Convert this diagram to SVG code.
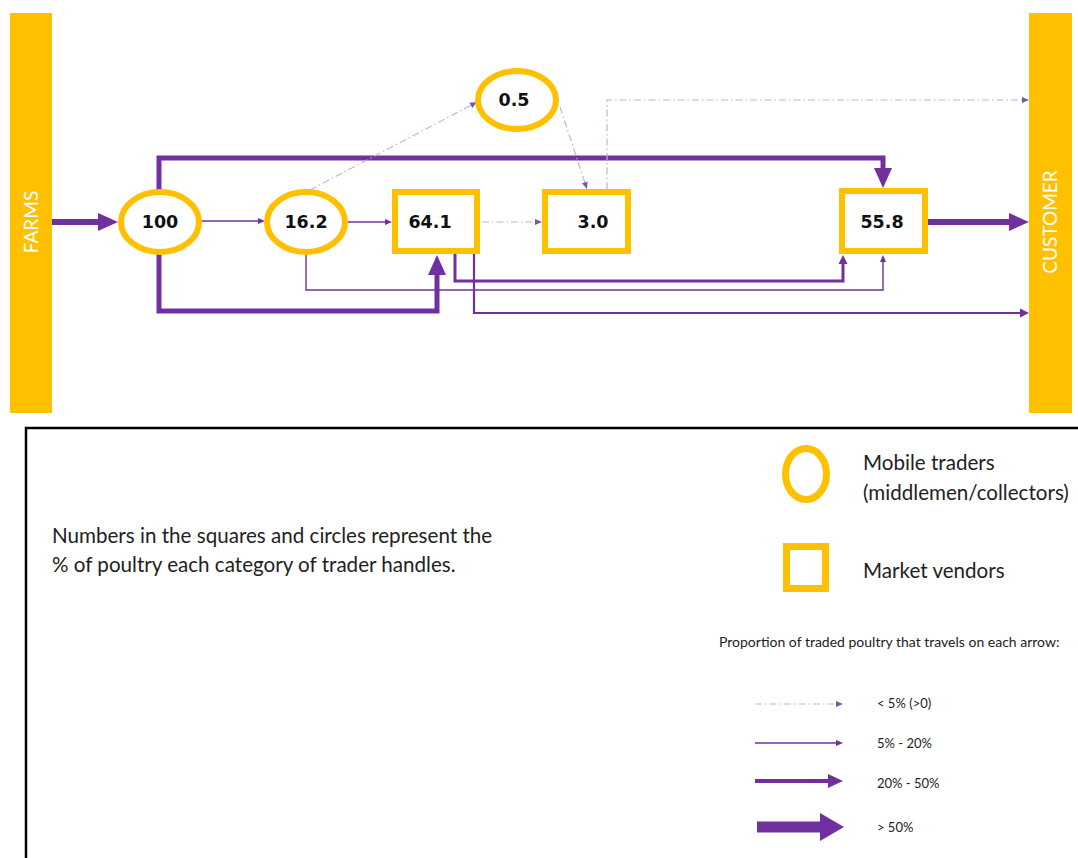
<svg xmlns="http://www.w3.org/2000/svg" width="1078" height="858" viewBox="0 0 1078 858">
<style>
.bar{fill:#FFC000}
.bartxt{font-family:Lato,"Liberation Sans",sans-serif;font-size:19px;fill:#fff;text-anchor:middle}
.node{fill:#fff;stroke:#FFC000;stroke-width:6}
.num{font-family:"DejaVu Sans",sans-serif;font-weight:bold;font-size:17.5px;fill:#111;text-anchor:middle}
.c{fill:none;stroke:#7030A0}
.w6{stroke-width:6}
.w5{stroke-width:5}
.w3{stroke-width:3}
.w2{stroke-width:2.2}
.w1{stroke-width:1.4}
.dash{fill:none;stroke:#c2b4d2;stroke-width:1.2;stroke-dasharray:7 3 1.5 3}
.txt{font-family:Lato,"Liberation Sans",sans-serif;fill:#222}
</style>
<defs>
<marker id="mBig" markerUnits="userSpaceOnUse" markerWidth="20" markerHeight="18" refX="0" refY="9" orient="auto" overflow="visible"><path d="M0,0 L20,9 L0,18 z" fill="#7030A0"/></marker>
<marker id="mMed" markerUnits="userSpaceOnUse" markerWidth="9" markerHeight="9" refX="0" refY="4.5" orient="auto" overflow="visible"><path d="M0,0 L9,4.5 L0,9 z" fill="#7030A0"/></marker>
<marker id="mSmall" markerUnits="userSpaceOnUse" markerWidth="7" markerHeight="6" refX="0" refY="3" orient="auto" overflow="visible"><path d="M0,0 L7,3 L0,6 z" fill="#7030A0"/></marker>
<marker id="mDash" markerUnits="userSpaceOnUse" markerWidth="7" markerHeight="6" refX="0" refY="3" orient="auto" overflow="visible"><path d="M0,0 L7,3 L0,6 z" fill="#7a55a8"/></marker>
<marker id="mLMed" markerUnits="userSpaceOnUse" markerWidth="15" markerHeight="14" refX="0" refY="7" orient="auto" overflow="visible"><path d="M0,0 L15,7 L0,14 z" fill="#7030A0"/></marker>
<marker id="mHuge" markerUnits="userSpaceOnUse" markerWidth="24" markerHeight="28" refX="0" refY="14" orient="auto" overflow="visible"><path d="M0,0 L24,14 L0,28 z" fill="#7030A0"/></marker>
</defs>
<rect x="0" y="0" width="1078" height="858" fill="#fff"/>

<g id="farms">
<rect class="bar" x="10" y="13" width="42" height="400"/>
<text class="bartxt" transform="translate(38,222) rotate(-90)">FARMS</text>
</g>
<g id="customer">
<rect class="bar" x="1029" y="13" width="43" height="400"/>
<text class="bartxt" transform="translate(1057,222) rotate(-90)">CUSTOMER</text>
</g>

<g id="connectors">
<path class="c w6" d="M52,222 H98" marker-end="url(#mBig)"/>
<path class="c w1" d="M200,221 H258" marker-end="url(#mSmall)"/>
<path class="c w1" d="M348,222 H385" marker-end="url(#mSmall)"/>
<path class="dash" d="M482,222 H535" marker-end="url(#mDash)"/>
<path class="c w5" d="M159,190 V158 H883 V168" marker-end="url(#mBig)"/>
<path class="c w5" d="M159,254 V311 H437 V275" marker-end="url(#mBig)"/>
<path class="c w1" d="M306,255 V290 H883 V262" marker-end="url(#mSmall)"/>
<path class="c w3" d="M455,254 V281 H843 V264" marker-end="url(#mMed)"/>
<path class="c w2" d="M474,254 V313 H1020" marker-end="url(#mMed)"/>
<path class="dash" d="M310,190 L470.8,105.3" marker-end="url(#mDash)"/>
<path class="dash" d="M560,107 L584.8,182.4" marker-end="url(#mDash)"/>
<path class="dash" d="M607,189 V100 H1022" marker-end="url(#mDash)"/>
<path class="c w6" d="M928,222 H1009" marker-end="url(#mBig)"/>
</g>

<g id="n100">
<ellipse class="node" cx="160" cy="222" rx="39" ry="30"/>
<text class="num" x="160" y="228">100</text>
</g>
<g id="n16_2">
<ellipse class="node" cx="306" cy="222" rx="39" ry="30"/>
<text class="num" x="306" y="228">16.2</text>
</g>
<g id="n0_5">
<ellipse class="node" cx="517" cy="100" rx="39" ry="29"/>
<text class="num" x="514" y="106">0.5</text>
</g>
<g id="n64_1">
<rect class="node" x="395" y="192" width="82" height="59"/>
<text class="num" x="430" y="228">64.1</text>
</g>
<g id="n3_0">
<rect class="node" x="545" y="192" width="83" height="59"/>
<text class="num" x="593" y="228">3.0</text>
</g>
<g id="n55_8">
<rect class="node" x="842" y="191" width="83" height="60"/>
<text class="num" x="882" y="228">55.8</text>
</g>

<g id="legend">
<rect x="26" y="428" width="1062" height="440" fill="none" stroke="#000" stroke-width="2.5"/>
<text class="txt" x="52" y="543" font-size="20.6">Numbers in the squares and circles represent the</text>
<text class="txt" x="52" y="572" font-size="20.6">% of poultry each category of trader handles.</text>
<ellipse cx="806" cy="474" rx="20.5" ry="25.5" fill="none" stroke="#FFC000" stroke-width="7"/>
<text class="txt" x="863" y="470" font-size="20.6">Mobile traders</text>
<text class="txt" x="863" y="500" font-size="20.6">(middlemen/collectors)</text>
<rect x="786.5" y="546.5" width="39" height="42" fill="none" stroke="#FFC000" stroke-width="7"/>
<text class="txt" x="863" y="578" font-size="20.6">Market vendors</text>
<text class="txt" x="719" y="647" font-size="14">Proportion of traded poultry that travels on each arrow:</text>
<path class="dash" d="M755,704 H836" marker-end="url(#mDash)"/>
<text class="txt" x="877" y="708" font-size="13">&lt; 5% (&gt;0)</text>
<path class="c w1" d="M755,743 H836" marker-end="url(#mSmall)"/>
<text class="txt" x="877" y="748" font-size="13">5% - 20%</text>
<path class="c" stroke-width="4" d="M755,781 H828" marker-end="url(#mLMed)"/>
<text class="txt" x="877" y="788" font-size="13">20% - 50%</text>
<path class="c" stroke-width="11" d="M757,827 H820" marker-end="url(#mHuge)"/>
<text class="txt" x="877" y="832" font-size="13">&gt; 50%</text>
</g>
</svg>
